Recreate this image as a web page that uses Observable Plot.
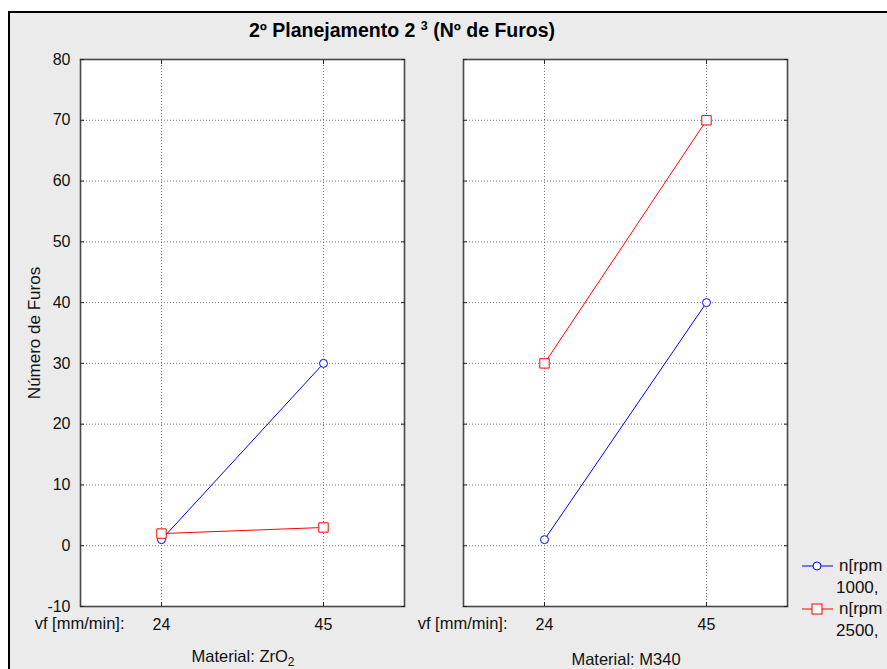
<!DOCTYPE html>
<html>
<head>
<meta charset="utf-8">
<script src="https://cdn.jsdelivr.net/npm/d3@7"></script>
<script src="https://cdn.jsdelivr.net/npm/@observablehq/plot@0.6"></script>
<style>
  html, body { margin: 0; padding: 0; background: #fff; overflow: hidden; width: 887px; height: 669px; }
  body { position: relative; font-family: "Liberation Sans", Arial, sans-serif; }
  #frame { position: absolute; left: 8px; top: 11px; width: 900px; height: 700px; border: 2.5px solid #000; background: #ebebeb; }
  #title { position: absolute; left: 0; width: 804px; top: 19px; text-align: center; font-weight: bold; font-size: 19.5px; color: #000; white-space: nowrap; }
  #title sup { font-size: 12.5px; vertical-align: 7px; line-height: 0; }
  #chart { position: absolute; left: 0; top: 0; }
  .mat { position: absolute; font-size: 16.5px; color: #111; transform: translateX(-50%); white-space: nowrap; }
  .mat sub { font-size: 12px; vertical-align: -4px; line-height: 0; }
  #legend { position: absolute; left: 802px; top: 555px; font-size: 17px; color: #111; }
  .lg { position: absolute; white-space: nowrap; }
</style>
</head>
<body>
<div id="frame"></div>
<div id="title">2º Planejamento 2 <sup>3</sup> (Nº de Furos)</div>
<div id="chart"></div>
<div class="mat" id="mat0" style="left:243px; top:647px;">Material: ZrO<sub>2</sub></div>
<div class="mat" id="mat1" style="left:626px; top:650px;">Material: M340</div>
<div id="legend"></div>
<script>
// ---- data ----
const materials = ["ZrO2", "M340"];
const vfLevels = ["24", "45"];
const speeds = ["1000", "2500"];
const zro2_1000 = [1, 30];
const zro2_2500 = [2, 3];
const m340_1000 = [1, 40];
const m340_2500 = [30, 70];
const yTicks = [-10, 0, 10, 20, 30, 40, 50, 60, 70, 80];
const seriesColors = ["#0000ff", "#ff0000"];
const legendLines = [["n[rpm", "1000,"], ["n[rpm", "2500,"]];

const table = [];
const add = (mat, spd, vals) => vals.forEach((v, i) => table.push({material: mat, speed: spd, vf: vfLevels[i], value: v}));
add(materials[0], speeds[0], zro2_1000);
add(materials[0], speeds[1], zro2_2500);
add(materials[1], speeds[0], m340_1000);
add(materials[1], speeds[1], m340_2500);

const font = "'Liberation Sans', Arial, sans-serif";
const grid = {stroke: "#7a7a7a", strokeOpacity: 1, strokeDasharray: "1,2", strokeWidth: 1};

const chart = Plot.plot({
  width: 887,
  height: 669,
  marginTop: 59,
  marginBottom: 63,
  marginLeft: 80,
  marginRight: 100,
  style: {background: "transparent", fontFamily: font, fontSize: "16px", color: "#111", overflow: "hidden"},
  fx: {domain: materials, paddingInner: 59 / 383, paddingOuter: 0, round: false, axis: null, label: null},
  x: {type: "point", domain: vfLevels, padding: 0.5, axis: null},
  y: {domain: [-10, 80], axis: null},
  color: {domain: speeds, range: seriesColors},
  marks: [
    Plot.frame({fill: "white", stroke: "none"}),
    Plot.gridY(yTicks, grid),
    Plot.gridX(vfLevels, grid),
    Plot.line(table, {fx: "material", x: "vf", y: "value", z: "speed", stroke: "speed", strokeWidth: 1}),
    Plot.dot(table.filter(d => d.speed === speeds[0]), {fx: "material", x: "vf", y: "value", stroke: "speed", fill: "white", r: 4, symbol: "circle", strokeWidth: 1}),
    Plot.dot(table.filter(d => d.speed === speeds[1]), {fx: "material", x: "vf", y: "value", stroke: "speed", fill: "white", r: 5.3, symbol: "square", strokeWidth: 1}),
    Plot.frame({stroke: "#484848", strokeWidth: 1.6}),
    // tick labels on the first panel
    Plot.axisY(yTicks, {anchor: "left", tickSize: 0, tickPadding: 10, fontSize: 16, tickFormat: d => String(d), label: "Número de Furos", labelAnchor: "center", labelOffset: 53, labelArrow: "none", facetAnchor: "left"}),
    // inward ticks on every panel
    Plot.axisY(yTicks, {anchor: "left", tickSize: -4, tickFormat: () => "", label: null, facetAnchor: null, stroke: "#222"}),
    Plot.axisY(yTicks, {anchor: "right", tickSize: -4, tickFormat: () => "", label: null, facetAnchor: null, stroke: "#222"}),
    Plot.axisX(vfLevels, {anchor: "bottom", tickSize: 0, tickPadding: 12, fontSize: 16, label: null, facetAnchor: null}),
    Plot.axisX(vfLevels, {anchor: "bottom", tickSize: -4, tickFormat: () => "", label: null, facetAnchor: null, stroke: "#222"}),
    Plot.axisX(vfLevels, {anchor: "top", tickSize: -4, tickFormat: () => "", label: null, facetAnchor: null, stroke: "#222"}),
    // "vf [mm/min]:" row label left of the x ticks, in every panel
    Plot.text(["vf [mm/min]:"], {frameAnchor: "bottom-left", dx: 44, dy: 22, text: d => d, textAnchor: "end", fontSize: 16.5, fill: "#111"})
  ]
});
document.getElementById("chart").appendChild(chart);

// the y-axis label is larger than the tick labels in the reference
chart.querySelectorAll("g[aria-label='y-axis label'] text").forEach(t => t.setAttribute("font-size", "17"));

// legend
const lg = document.getElementById("legend");
legendLines.forEach((lines, i) => {
  const y = i * 43;
  const sym = i === 0
    ? `<circle cx="15" cy="11" r="4" fill="white" stroke="${seriesColors[i]}"/>`
    : `<rect x="10" y="6" width="10" height="10" fill="white" stroke="${seriesColors[i]}"/>`;
  lg.insertAdjacentHTML("beforeend",
    `<svg class="lg" style="left:0;top:${y}px" width="32" height="22"><line x1="0" x2="31" y1="11" y2="11" stroke="${seriesColors[i]}" stroke-width="1"/>${sym}</svg>
     <div class="lg" style="left:37px;top:${y + 1}px">${lines[0]}</div>
     <div class="lg" style="left:34px;top:${y + 23}px">${lines[1]}</div>`);
});
</script>
</body>
</html>
